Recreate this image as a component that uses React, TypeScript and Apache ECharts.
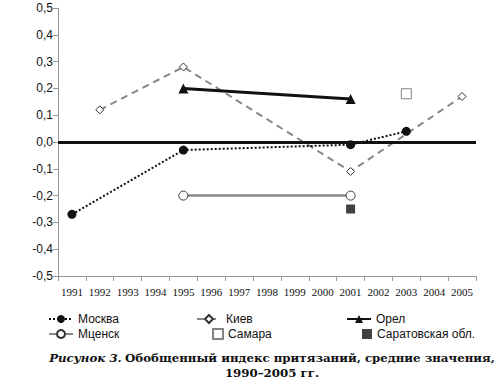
import React, { useEffect, useRef } from "react";
import * as echarts from "echarts";

const years = ["1991","1992","1993","1994","1995","1996","1997","1998","1999","2000","2001","2002","2003","2004","2005"];
const moskva = [-0.27, null, null, null, -0.03, null, null, null, null, null, -0.01, null, 0.04, null, null];
const kiev = [null, 0.12, null, null, 0.28, null, null, null, null, null, -0.11, null, null, null, 0.17];
const orel = [null, null, null, null, 0.2, null, null, null, null, null, 0.16, null, null, null, null];
const mtsensk = [null, null, null, null, -0.2, null, null, null, null, null, -0.2, null, null, null, null];
const samara = [null, null, null, null, null, null, null, null, null, null, null, null, 0.18, null, null];
const saratov = [null, null, null, null, null, null, null, null, null, null, -0.25, null, null, null, null];

export default function App() {
  const ref = useRef<HTMLDivElement>(null);
  useEffect(() => {
    const chart = echarts.init(ref.current!, null, { renderer: "svg" });
    const legendText = { fontFamily: "Liberation Sans", fontSize: 12, color: "#111" };
    const lg = (name: string, left: number, top: number, w: number, h: number) => ({
      left, top, itemWidth: w, itemHeight: h, itemGap: 0, padding: 0,
      textStyle: legendText, data: [name],
    });
    const row1 = 313;
    const row2 = 328;
    chart.setOption({
      animation: false,
      grid: { left: 58, right: 24, top: 8, bottom: 109 },
      xAxis: {
        type: "category",
        data: years,
        boundaryGap: true,
        axisLine: { onZero: false, lineStyle: { color: "#999", width: 1 } },
        axisTick: { show: true, lineStyle: { color: "#999" } },
        axisLabel: { fontFamily: "Liberation Serif", fontSize: 11, color: "#111", margin: 10, interval: 0 },
        splitLine: { show: false },
      },
      yAxis: {
        type: "value",
        min: -0.5,
        max: 0.5,
        interval: 0.1,
        axisLine: { show: true, lineStyle: { color: "#999", width: 1 } },
        axisTick: { show: true, lineStyle: { color: "#999" } },
        splitLine: { show: false },
        axisLabel: {
          fontFamily: "Liberation Sans",
          fontSize: 12,
          color: "#111",
          margin: 5,
          formatter: (v: number) => v.toFixed(1).replace(".", ","),
        },
      },
      legend: [
        lg("Москва", 48, row1, 24, 10),
        lg("Мценск", 48, row2, 24, 10),
        lg("Киев", 196, row1, 24, 10),
        lg("Самара", 212, row2, 10, 10),
        lg("Орел", 346, row1, 24, 10),
        lg("Саратовская обл.", 362, row2, 10, 10),
      ],
      series: [
        {
          name: "Москва", type: "line", data: moskva, connectNulls: true,
          symbol: "circle", symbolSize: 9,
          itemStyle: { color: "#111" },
          lineStyle: { color: "#111", width: 2, type: "dotted" },
          markLine: {
            silent: true, symbol: "none", label: { show: false },
            lineStyle: { color: "#111", width: 3, type: "solid" },
            data: [{ yAxis: 0 }],
          },
          z: 5,
        },
        {
          name: "Киев", type: "line", data: kiev, connectNulls: true,
          symbol: "diamond", symbolSize: 8,
          itemStyle: { color: "#fff", borderColor: "#333", borderWidth: 1 },
          lineStyle: { color: "#888", width: 2, type: [7, 5] },
          z: 3,
        },
        {
          name: "Орел", type: "line", data: orel, connectNulls: true,
          symbol: "triangle", symbolSize: 10,
          itemStyle: { color: "#111" },
          lineStyle: { color: "#111", width: 3 },
          z: 4,
        },
        {
          name: "Мценск", type: "line", data: mtsensk, connectNulls: true,
          symbol: "circle", symbolSize: 9,
          itemStyle: { color: "#fff", borderColor: "#333", borderWidth: 1 },
          lineStyle: { color: "#888", width: 2.5 },
          z: 3,
        },
        {
          name: "Самара", type: "scatter", data: samara,
          symbol: "rect", symbolSize: 10,
          itemStyle: { color: "#fff", borderColor: "#666", borderWidth: 1 },
        },
        {
          name: "Саратовская обл.", type: "scatter", data: saratov,
          symbol: "rect", symbolSize: 9,
          itemStyle: { color: "#111" },
        },
      ],
      graphic: [
        {
          type: "text", x: 272, y: 350,
          style: {
            text: "{i|Рисунок 3.} {b|Обобщенный индекс притязаний, средние значения,}\n{b|1990–2005 гг.}",
            textAlign: "center",
            rich: {
              i: { fontFamily: "DejaVu Serif", fontStyle: "italic", fontWeight: "bold", fontSize: 11.8, fill: "#111", lineHeight: 15 },
              b: { fontFamily: "DejaVu Serif", fontWeight: "bold", fontSize: 11.8, fill: "#111", lineHeight: 15 },
            },
          },
        },
      ],
    });
    return () => chart.dispose();
  }, []);
  return <div ref={ref} style={{ width: 500, height: 385, position: "absolute", left: 0, top: 0 }} />;
}
